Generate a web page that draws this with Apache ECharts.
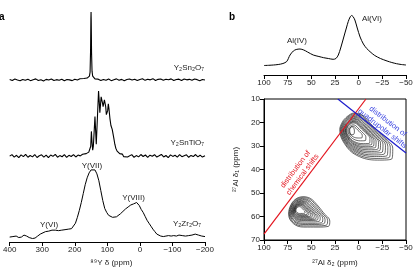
<!DOCTYPE html>
<html>
<head>
<meta charset="utf-8">
<script src="https://cdn.jsdelivr.net/npm/echarts@6/dist/echarts.min.js"></script>
<style>
  html, body { margin: 0; padding: 0; background: #fff; }
  #chart { width: 416px; height: 272px; }
</style>
</head>
<body>
<div id="chart"></div>
<script>
// panel a: 89Y spectra, [ppm, intensity above own baseline]
const snSpectrum = [[400,0.5],[392,-0.5],[384,1],[376,0],[368,-0.8],[360,0.6],[352,-0.3],[344,0.9],[336,-0.6],[328,0.4],[320,1.2],[312,-0.4],[304,0.3],[296,-0.9],[288,0.7],[280,0],[272,1.1],[264,-0.5],[256,0.4],[248,-0.2],[240,0.8],[232,-0.7],[224,0.5],[216,0.2],[208,-0.6],[200,0.9],[192,0.1],[184,1.3],[178,0.4],[172,1.5],[166,0.8],[162,2],[158,2.5],[155,4],[153,8],[151.5,30],[150.5,62],[150,69],[149.5,60],[148.5,28],[147,9],[145,4],[142,2.2],[138,1.2],[134,0.3],[128,0.9],[120,-0.5],[112,0.6],[104,-0.3],[96,1],[88,-0.6],[80,0.4],[72,1.2],[64,-0.2],[56,0.7],[48,-0.8],[40,0.5],[32,1.1],[24,0],[16,0.8],[8,-0.5],[0,0.6],[-8,1.3],[-16,-0.3],[-24,0.9],[-32,0.2],[-40,1.4],[-48,-0.4],[-56,0.7],[-64,1.1],[-72,-0.2],[-80,0.8],[-88,0.3],[-96,1.2],[-104,-0.5],[-112,0.6],[-120,0.9],[-128,-0.4],[-136,1.1],[-144,0.2],[-152,0.7],[-160,-0.3],[-168,1],[-176,0.4],[-184,-0.6],[-192,0.5],[-200,0]]

const tiSpectrum = [[400,0],[393,1.5],[386,-1],[379,0.8],[372,-1.5],[365,1.2],[358,-0.5],[351,1.8],[344,-1.2],[337,0.6],[330,-0.8],[323,1.6],[316,-1.4],[309,0.4],[302,1.3],[295,-1],[288,0.9],[281,-1.6],[274,1.1],[267,-0.3],[260,1.7],[253,-1.1],[246,0.5],[239,-0.7],[232,1.4],[225,-1.3],[218,0.8],[211,-0.4],[204,1.5],[197,-0.9],[190,1],[183,0.2],[176,1.8],[170,0.5],[165,2.5],[161,1.5],[157,4],[154,3],[151,10],[149,25],[147,14],[145,6],[143,10],[140,28],[138,40],[136,26],[134,12],[131,35],[128,58],[127,66],[125,56],[123,44],[121,52],[119,60],[117,61],[115,54],[113,50],[111,52],[109,57],[107,58],[105,50],[103,42],[101,40],[99,46],[97,53],[95,48],[92,38],[89,31],[87,30],[85,27],[83,25],[80,18],[77,12],[74,8],[70,5],[66,3.5],[62,2.5],[58,1],[54,2],[50,-0.5],[44,1.2],[38,-1],[32,0.7],[25,1.5],[18,-1.2],[11,0.5],[4,-0.8],[-3,1.6],[-10,-0.4],[-17,1.1],[-24,-1.3],[-31,0.9],[-38,-0.2],[-45,1.4],[-52,-1],[-59,0.3],[-66,1.7],[-73,-0.9],[-80,0.6],[-87,-1.5],[-94,1.2],[-101,-0.3],[-108,0.8],[-115,-1.1],[-122,1.5],[-129,-0.6],[-136,0.4],[-143,1.3],[-150,-1.2],[-157,0.7],[-164,-0.5],[-171,1.6],[-178,-0.8],[-185,0.9],[-192,-1],[-200,0.4]]

const zrSpectrum = [[400,1],[390,1.5],[380,2],[372,0.5],[364,1],[356,3],[348,2],[340,0.5],[330,-0.5],[322,0],[314,2],[306,4],[300,5.5],[290,6.5],[280,7],[270,8],[260,8],[250,7.5],[240,8],[230,8.5],[220,9],[210,9.5],[204,11],[198,15],[192,21],[186,28],[180,36],[174,45],[168,54],[162,61],[156,66],[150,69],[144,70],[138,69],[132,65],[126,58],[120,48],[114,38],[108,30],[102,26],[96,23],[90,21.5],[84,21],[78,21],[72,21.5],[66,23],[60,24.5],[52,27],[44,29.5],[36,31.5],[28,33.5],[20,34.5],[14,35.5],[10,36],[6,35],[2,33],[-4,29],[-10,26],[-16,22],[-22,18],[-28,15],[-34,12],[-40,9],[-46,6.5],[-52,4],[-58,2.5],[-64,2],[-72,1.5],[-80,2],[-88,2.5],[-96,2],[-104,2.5],[-112,2],[-120,3],[-130,2.5],[-140,2],[-150,2.5],[-160,3],[-170,4],[-180,3],[-190,2],[-200,1.5]]

// stacking offsets of the three traces
const snOffset = 164
const tiOffset = 87
const zrOffset = 4

// panel b top: 27Al 1D spectrum
const alSpectrum = [[100,9.5],[95,9.7],[90,10],[85,10.5],[80,11.5],[76,13.5],[72.5,20],[69,24],[66,25.5],[62,26],[58,25],[54,23],[48,20],[42,18.5],[37,17.3],[32,16.5],[27,15.7],[24,16.5],[21.5,20],[19,27],[16,37],[13,47],[11,53.5],[9,58],[7.5,59.5],[6,58.5],[4,55],[1.5,47],[-1.5,38],[-5,31],[-8.5,26.5],[-13,22.5],[-17,19.5],[-23,16.5],[-30,14],[-35,12.5],[-40,11.3],[-45,10.5],[-50,10]]

// panel b bottom: contour rings [delta2, delta1]
const upperRings = [
  [[16,19],[5,16],[-4,17],[-16,22],[-29,27],[-36,31],[-35,35.5],[-20,36],[2,34],[15,29],[20,23]],
  [[15.5,19.3],[5.1,16.4],[-3.3,17.4],[-14.6,22.1],[-26.8,26.8],[-33.4,30.6],[-32.5,34.8],[-18.4,35.3],[2.3,33.4],[14.5,28.7],[19.2,23]],
  [[14.9,19.5],[5.2,16.9],[-2.7,17.8],[-13.2,22.2],[-24.7,26.6],[-30.8,30.1],[-30,34.1],[-16.8,34.5],[2.6,32.7],[14,28.3],[18.4,23.1]],
  [[14.4,19.8],[5.4,17.4],[-2,18.2],[-11.9,22.3],[-22.5,26.4],[-28.3,29.7],[-27.4,33.3],[-15.1,33.8],[2.9,32.1],[13.6,28],[17.7,23.1]],
  [[13.8,20.1],[5.5,17.8],[-1.4,18.6],[-10.5,22.4],[-20.4,26.2],[-25.7,29.2],[-24.9,32.6],[-13.5,33],[3.2,31.5],[13.1,27.7],[16.9,23.1]],
  [[13.3,20.4],[5.6,18.3],[-0.7,19],[-9.1,22.5],[-18.2,26],[-23.1,28.8],[-22.4,31.9],[-11.9,32.3],[3.5,30.9],[12.6,27.4],[16.1,23.2]],
  [[12.9,20.6],[5.7,18.6],[-0.2,19.3],[-8,22.5],[-16.4,25.8],[-21,28.4],[-20.3,31.3],[-10.6,31.6],[3.8,30.3],[12.2,27.1],[15.5,23.2]],
  [[12.3,20.8],[5.8,19.1],[0.5,19.7],[-6.6,22.6],[-14.2,25.6],[-18.4,27.9],[-17.8,30.6],[-8.9,30.9],[4.1,29.7],[11.7,26.7],[14.7,23.2]],
  [[11.9,21.1],[5.9,19.5],[1.1,20],[-5.4,22.7],[-12.4,25.4],[-16.2,27.6],[-15.7,30],[-7.6,30.3],[4.3,29.2],[11.3,26.5],[14,23.2]],
  [[11.4,21.3],[6,19.8],[1.6,20.3],[-4.3,22.8],[-10.6,25.2],[-14.1,27.2],[-13.6,29.4],[-6.2,29.6],[4.6,28.6],[10.9,26.2],[13.4,23.3]],
  [[11,21.5],[6.1,20.2],[2.2,20.6],[-3.1,22.8],[-8.8,25],[-11.9,26.8],[-11.5,28.8],[-4.9,29],[4.8,28.1],[10.5,25.9],[12.7,23.3]],
  [[10.1,22],[6.3,21],[3.3,21.3],[-0.8,23],[-5.2,24.7],[-7.6,26.1],[-7.3,27.6],[-2.2,27.8],[5.3,27.1],[9.7,25.4],[11.4,23.3]],
  [[9.3,22.4],[6.5,21.6],[4.3,21.9],[1.3,23.1],[-2,24.4],[-3.8,25.4],[-3.5,26.5],[0.3,26.6],[5.8,26.1],[9,24.9],[10.3,23.4]],
  [[9.5,23],[7.5,21.8],[5,22.5],[4.5,24],[6,25.2],[8.5,25]]
]
const lowerRings = [
  [[58.5,51.5],[51,52.3],[44,55],[37,58.5],[30.5,62],[32,64.2],[44,64.5],[58,64.5],[69,63],[74,59],[71.5,55],[65.5,52.3]],
  [[58.9,51.9],[51.9,52.6],[45.4,55.1],[38.9,58.4],[32.8,61.7],[34.2,63.7],[45.4,64],[58.4,64],[68.7,62.6],[73.3,58.9],[71,55.1],[65.4,52.6]],
  [[59.3,52.3],[53,53],[47,55.3],[41,58.3],[35.5,61.3],[36.8,63.1],[47,63.4],[58.9,63.4],[68.3,62.1],[72.5,58.7],[70.4,55.3],[65.3,53]],
  [[59.7,52.7],[53.9,53.3],[48.4,55.4],[42.9,58.2],[37.9,60.9],[39,62.6],[48.4,62.9],[59.3,62.9],[67.9,61.7],[71.8,58.6],[69.9,55.4],[65.2,53.3]],
  [[60.2,53.2],[54.9,53.7],[50,55.6],[45.1,58],[40.6,60.5],[41.6,62],[50,62.3],[59.8,62.3],[67.5,61.2],[71,58.4],[69.3,55.6],[65.1,53.7]],
  [[60.5,53.5],[55.8,54],[51.4,55.7],[47,57.9],[42.9,60.2],[43.8,61.5],[51.4,61.7],[60.2,61.7],[67.2,60.8],[70.3,58.3],[68.7,55.7],[64.9,54]],
  [[60.9,53.9],[56.6,54.3],[52.6,55.9],[48.6,57.9],[44.9,59.9],[45.8,61.1],[52.6,61.3],[60.6,61.3],[66.9,60.4],[69.7,58.1],[68.3,55.9],[64.9,54.3]],
  [[61.2,54.2],[57.4,54.6],[53.8,56],[50.2,57.8],[46.9,59.6],[47.7,60.7],[53.8,60.8],[60.9,60.8],[66.6,60.1],[69.1,58],[67.8,56],[64.8,54.6]],
  [[61.5,54.5],[58.2,54.9],[55,56.1],[51.9,57.7],[48.9,59.3],[49.6,60.2],[55,60.4],[61.3,60.4],[66.3,59.7],[68.5,57.9],[67.4,56.1],[64.7,54.9]],
  [[61.8,54.8],[58.8,55.1],[56,56.2],[53.2,57.6],[50.6,59],[51.2,59.9],[56,60],[61.6,60],[66,59.4],[68,57.8],[67,56.2],[64.6,55.1]],
  [[62.1,55.1],[59.6,55.4],[57.2,56.3],[54.8,57.5],[52.6,58.7],[53.1,59.4],[57.2,59.6],[62,59.6],[65.7,59],[67.4,57.7],[66.6,56.3],[64.5,55.4]],
  [[62.4,55.4],[60.2,55.6],[58.2,56.4],[56.2,57.4],[54.3,58.5],[54.7,59.1],[58.2,59.2],[62.3,59.2],[65.5,58.7],[66.9,57.6],[66.2,56.4],[64.4,55.6]],
  [[62.8,55.8],[61.1,56],[59.6,56.6],[58.1,57.3],[56.6,58.1],[57,58.6],[59.6,58.7],[62.7,58.7],[65.1,58.3],[66.2,57.4],[65.7,56.6],[64.3,56]]
]

// guide lines
const shiftLine = [[100,67.5],[-7.7,10]]
const quadLine = [[22,10],[-50,33]]

const FONT = "'Liberation Sans', Arial, sans-serif"
const minus = v => String(v).replace('-', '\u2212')

const axisBase = {
  axisLine: { onZero: false, lineStyle: { color: '#000', width: 1 } },
  axisTick: { length: 4, lineStyle: { color: '#000' } },
  axisLabel: { fontSize: 8, color: '#222', margin: 4, formatter: minus },
  splitLine: { show: false }
}

const offsetData = (arr, off) => arr.map(p => [p[0], p[1] + off])

const series = [
  { data: offsetData(snSpectrum, snOffset), xAxisIndex: 0, yAxisIndex: 0, w: 1.1 },
  { data: offsetData(tiSpectrum, tiOffset), xAxisIndex: 0, yAxisIndex: 0, w: 1.1 },
  { data: offsetData(zrSpectrum, zrOffset), xAxisIndex: 0, yAxisIndex: 0, w: 1 },
  { data: alSpectrum, xAxisIndex: 1, yAxisIndex: 1, w: 1, smooth: 0.3 }
].map(s => ({
  type: 'line', data: s.data, xAxisIndex: s.xAxisIndex, yAxisIndex: s.yAxisIndex,
  symbol: 'none', smooth: s.smooth || false, sampling: null, silent: true,
  lineStyle: { color: '#000', width: s.w }
}))

upperRings.concat(lowerRings).forEach(ring => {
  series.push({
    type: 'line', xAxisIndex: 2, yAxisIndex: 2, data: ring.concat([ring[0]]),
    symbol: 'none', smooth: 0.4, silent: true,
    lineStyle: { color: '#000', width: 0.6 }
  })
})
series.push({
  type: 'line', xAxisIndex: 2, yAxisIndex: 2, data: shiftLine, symbol: 'none', silent: true,
  lineStyle: { color: '#e3141e', width: 1.2 }
})
series.push({
  type: 'line', xAxisIndex: 2, yAxisIndex: 2, data: quadLine, symbol: 'none', silent: true,
  lineStyle: { color: '#1c1ccc', width: 1.2 }
})

const txt = (text, x, y, align, extra) => Object.assign({
  type: 'text', x: x, y: y, silent: true,
  style: { text: text, fill: '#222', font: '8px ' + FONT, textAlign: align, textVerticalAlign: 'middle' }
}, extra || {})

const chart = echarts.init(document.getElementById('chart'))
chart.setOption({
  animation: false,
  textStyle: { fontFamily: FONT },
  grid: [
    { left: 6, right: 211, top: 5, bottom: 27 },
    { left: 264, right: 10, top: 5, bottom: 197 },
    { left: 264, right: 10, top: 99, bottom: 31, show: true, borderColor: '#000', borderWidth: 1 }
  ],
  xAxis: [
    Object.assign({}, axisBase, {
      gridIndex: 0, type: 'value', min: -200, max: 400, interval: 100, inverse: true,
      name: '\u2078\u2079Y \u03b4 (ppm)', nameLocation: 'middle', nameGap: 17,
      nameTextStyle: { fontSize: 8, color: '#222', padding: [0, 0, 0, 8] }
    }),
    Object.assign({}, axisBase, {
      gridIndex: 1, type: 'value', min: -50, max: 100, interval: 25, inverse: true
    }),
    Object.assign({}, axisBase, {
      gridIndex: 2, type: 'value', min: -50, max: 100, interval: 25, inverse: true,
      name: '\u00b2\u2077Al \u03b4\u2082 (ppm)', nameLocation: 'middle', nameGap: 19,
      nameTextStyle: { fontSize: 8, color: '#222' }
    })
  ],
  yAxis: [
    { gridIndex: 0, type: 'value', min: 0, max: 240, show: false },
    { gridIndex: 1, type: 'value', min: 0, max: 70, show: false },
    Object.assign({}, axisBase, {
      gridIndex: 2, type: 'value', min: 10, max: 70, interval: 10, inverse: true,
      name: '\u00b2\u2077Al \u03b4\u2081 (ppm)', nameLocation: 'middle', nameGap: 24,
      nameTextStyle: { fontSize: 8, color: '#222' }
    })
  ],
  series: series,
  graphic: [
    txt('a', -1, 17, 'left', { style: { text: 'a', fill: '#000', font: 'bold 10px ' + FONT, textAlign: 'left', textVerticalAlign: 'middle' } }),
    txt('b', 232, 17, 'center', { style: { text: 'b', fill: '#000', font: 'bold 10px ' + FONT, textAlign: 'center', textVerticalAlign: 'middle' } }),
    txt('Y\u2082Sn\u2082O\u2087', 204, 68, 'right'),
    txt('Y\u2082SnTiO\u2087', 204, 143, 'right'),
    txt('Y\u2082Zr\u2082O\u2087', 201, 224, 'right'),
    txt('Y(VII)', 92, 166, 'center'),
    txt('Y(VIII)', 133.5, 198, 'center'),
    txt('Y(VI)', 49, 225, 'center'),
    txt('Al(IV)', 297, 41, 'center'),
    txt('Al(VI)', 372, 19, 'center'),
    {
      type: 'text', x: 299, y: 172, rotation: 0.925, silent: true,
      style: { text: 'distribution of\nchemical shifts', fill: '#e3141e', font: '7.5px ' + FONT,
        textAlign: 'center', textVerticalAlign: 'middle', lineHeight: 9 }
    },
    {
      type: 'text', x: 385, y: 125, rotation: -0.66, silent: true,
      style: { text: 'distribution of\nquadrupolar shifts', fill: '#3640e0', font: '7.5px ' + FONT,
        textAlign: 'center', textVerticalAlign: 'middle', lineHeight: 9 }
    }
  ]
})
</script>
</body>
</html>
